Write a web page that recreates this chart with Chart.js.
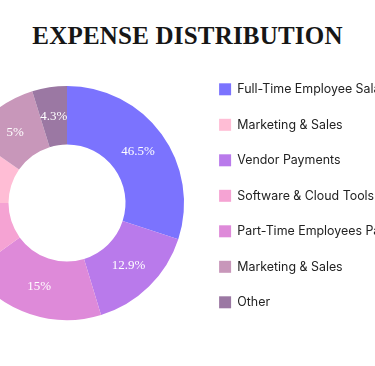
<!DOCTYPE html>
<html>
<head>
<meta charset="utf-8">
<script src="https://cdn.jsdelivr.net/npm/chart.js@4.4.1/dist/chart.umd.min.js"></script>
<style>
  html, body { margin: 0; padding: 0; background: #fff; }
  body { width: 375px; height: 366px; overflow: hidden; position: relative; }
  #title {
    position: absolute; left: 0; top: 21px; width: 375px; text-align: center;
    font: 700 25px/30px "Liberation Serif", serif; color: #161616; letter-spacing: 0.2px;
  }
  #wrap { position: absolute; left: -62px; top: 60px; width: 458px; height: 286px; }
</style>
</head>
<body>
<div id="title">EXPENSE DISTRIBUTION</div>
<div id="wrap"><canvas id="donut"></canvas></div>
<script>
// slices, clockwise from 12 o'clock
const categories = [
  'Full-Time Employee Salaries',
  'Vendor Payments',
  'Part-Time Employees Payroll',
  'Software & Cloud Tools',
  'Marketing & Sales',
  'Marketing & Sales',
  'Other',
];
const amounts = [30, 15.3, 19.7, 10, 9.7, 10.5, 4.8];
const shareLabels = ['46.5%', '12.9%', '15%', '8.2%', '8.1%', '5%', '4.3%'];
// order the legend lists them in (indices into categories)
const legendOrder = [0, 4, 1, 3, 2, 5, 6];

const sliceColors = ['#7b73fe', '#b97aeb', '#de8ad9', '#f5a3d3', '#ffbdd5', '#c897ba', '#9b78a3'];

const sliceLabels = {
  id: 'sliceLabels',
  afterDatasetsDraw(chart) {
    const ctx = chart.ctx;
    const meta = chart.getDatasetMeta(0);
    ctx.save();
    ctx.font = '13px "Liberation Serif", serif';
    ctx.fillStyle = '#ffffff';
    ctx.textAlign = 'center';
    ctx.textBaseline = 'middle';
    meta.data.forEach((arc, i) => {
      const p = arc.tooltipPosition();
      ctx.fillText(shareLabels[i], p.x, p.y);
    });
    ctx.restore();
  },
};

new Chart(document.getElementById('donut'), {
  type: 'doughnut',
  data: {
    labels: categories,
    datasets: [{
      data: amounts,
      backgroundColor: sliceColors,
      borderWidth: 0,
    }],
  },
  options: {
    animation: false, responsive: true, maintainAspectRatio: false,
    events: [],
    radius: '90.7%',
    cutout: '50%',
    plugins: {
      tooltip: { enabled: false },
      legend: {
        position: 'right', align: 'start', maxWidth: 200,
        labels: {
          boxWidth: 12, boxHeight: 12, padding: 23.1,
          color: '#222222',
          font: { family: 'Inter', size: 12.4 },
          sort: (a, b) => legendOrder.indexOf(a.index) - legendOrder.indexOf(b.index),
        },
      },
    },
  },
  plugins: [sliceLabels],
});
</script>
</body>
</html>
